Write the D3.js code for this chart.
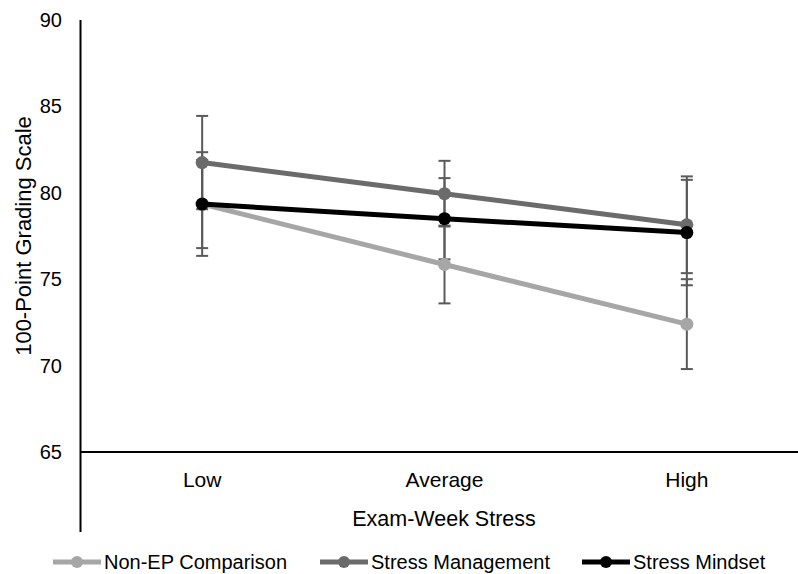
<!DOCTYPE html>
<html><head><meta charset="utf-8">
<script src="https://cdn.jsdelivr.net/npm/d3@7"></script>
<style>body{margin:0;background:#fff}svg{display:block;font-family:"Liberation Sans",Arial,sans-serif}</style>
</head><body>
<svg id="c" width="798" height="574"></svg>
<script>
const categories = ["Low", "Average", "High"];
const seriesNames = ["Non-EP Comparison", "Stress Management", "Stress Mindset"];
const nonEP = [79.35, 75.85, 72.4];
const stressMgmt = [81.75, 79.95, 78.15];
const stressMindset = [79.35, 78.5, 77.7];
const errNonEP = [2.55, 2.25, 2.6];
const errMgmt = [2.7, 1.9, 2.8];
const errMindset = [3.0, 2.35, 3.05];
const yTicks = [65, 70, 75, 80, 85, 90];
const colors = ["#a6a6a6", "#6b6b6b", "#000000"];

const series = [
  {name: seriesNames[0], values: nonEP, err: errNonEP, color: colors[0]},
  {name: seriesNames[1], values: stressMgmt, err: errMgmt, color: colors[1]},
  {name: seriesNames[2], values: stressMindset, err: errMindset, color: colors[2]}
];

const svg = d3.select("#c");
const x = d3.scalePoint().domain(categories).range([81, 808]).padding(0.5);
const y = d3.scaleLinear().domain([65, 90]).range([452, 20]);
const fs = 20;

// axes
svg.append("line").attr("x1", 80.5).attr("x2", 80.5).attr("y1", 20).attr("y2", 532)
  .attr("stroke", "#000").attr("stroke-width", 2);
svg.append("line").attr("x1", 80).attr("x2", 798).attr("y1", y(65)).attr("y2", y(65))
  .attr("stroke", "#000").attr("stroke-width", 2);
svg.selectAll(".yt").data(yTicks).enter().append("text")
  .attr("x", 62).attr("y", d => y(d)).attr("dy", "0.35em")
  .attr("text-anchor", "end").attr("font-size", fs).attr("fill", "#000").text(d => d);
svg.selectAll(".xt").data(categories).enter().append("text")
  .attr("x", d => x(d)).attr("y", 480).attr("dy", "0.35em")
  .attr("text-anchor", "middle").attr("font-size", 21).attr("fill", "#000").text(d => d);

svg.append("text").attr("transform", "translate(23,236) rotate(-90)")
  .attr("text-anchor", "middle").attr("dy", "0.35em").attr("font-size", 22).text("100-Point Grading Scale");
svg.append("text").attr("x", 444).attr("y", 518).attr("dy", "0.35em")
  .attr("text-anchor", "middle").attr("font-size", 21.5).text("Exam-Week Stress");

// error bars
const eb = svg.append("g").attr("stroke", "#5a5a5a").attr("stroke-width", 2);
series.forEach(s => {
  categories.forEach((c, i) => {
    const cx = x(c), hi = y(s.values[i] + s.err[i]), lo = y(s.values[i] - s.err[i]);
    eb.append("line").attr("x1", cx).attr("x2", cx).attr("y1", hi).attr("y2", lo);
    eb.append("line").attr("x1", cx - 6).attr("x2", cx + 6).attr("y1", hi).attr("y2", hi);
    eb.append("line").attr("x1", cx - 6).attr("x2", cx + 6).attr("y1", lo).attr("y2", lo);
  });
});

const line = d3.line().x((d, i) => x(categories[i])).y(d => y(d));
series.forEach(s => {
  svg.append("path").datum(s.values).attr("d", line).attr("fill", "none")
    .attr("stroke", s.color).attr("stroke-width", 5);
  svg.selectAll(null).data(s.values).enter().append("circle")
    .attr("cx", (d, i) => x(categories[i])).attr("cy", d => y(d)).attr("r", 6.5).attr("fill", s.color);
});

// legend
const legX = [53, 320, 582];
const legY = 562;
series.forEach((s, i) => {
  const g = svg.append("g").attr("transform", "translate(" + legX[i] + "," + legY + ")");
  g.append("line").attr("x1", 0).attr("x2", 48).attr("y1", 0).attr("y2", 0)
    .attr("stroke", s.color).attr("stroke-width", 5);
  g.append("circle").attr("cx", 24).attr("cy", 0).attr("r", 6).attr("fill", s.color);
  g.append("text").attr("x", 51).attr("y", 0).attr("dy", "0.35em").attr("font-size", fs).text(s.name);
});
</script>
</body></html>
